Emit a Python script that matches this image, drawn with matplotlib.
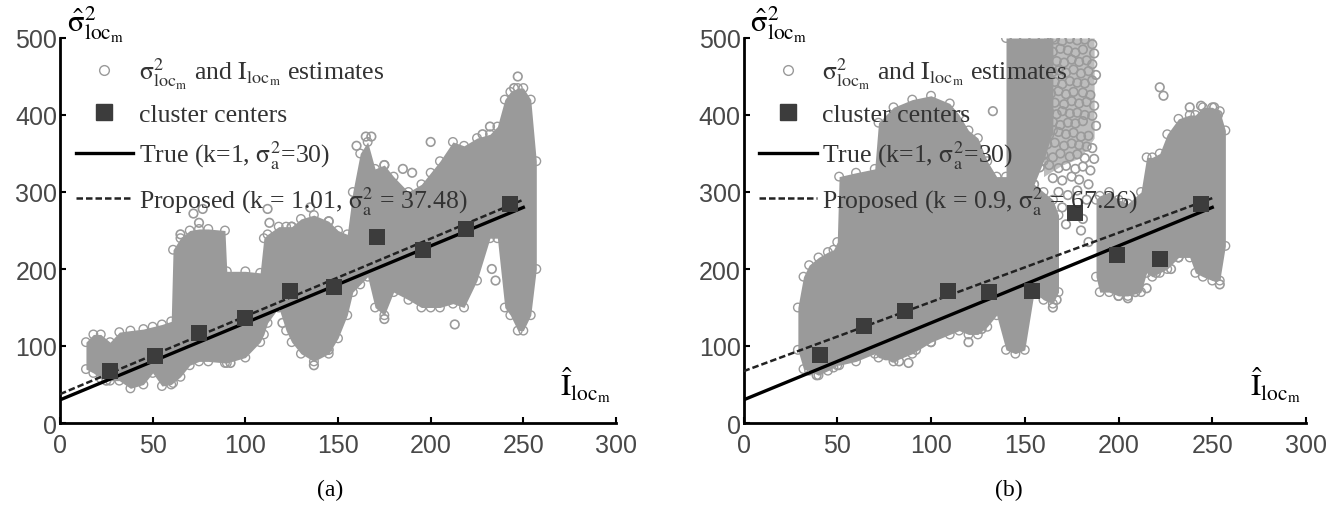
import matplotlib
matplotlib.use('Agg')
import matplotlib.pyplot as plt
from matplotlib.lines import Line2D

# --- 1. DATA ---
# panel (a): gray cloud outline
a_cloud_x = [14, 18, 22, 27, 32, 38, 45, 50, 55, 60, 61, 65, 70, 75, 80, 89, 90, 100, 108, 110, 112, 118, 122, 125, 130,
             137, 145, 150, 155, 158, 162, 166, 170, 175, 180, 188, 195, 200, 205, 212, 218, 225, 232, 236, 240, 243,
             247, 250, 254, 257]
a_cloud_lo = [70, 65, 58, 55, 55, 45, 50, 65, 48, 50, 52, 60, 75, 80, 80, 78, 78, 85, 105, 115, 130, 150, 120, 105, 90,
              80, 90, 110, 140, 170, 180, 190, 150, 140, 170, 160, 150, 150, 150, 155, 150, 185, 240, 240, 150, 140,
              120, 120, 140, 200]
a_cloud_hi = [105, 115, 115, 105, 118, 120, 122, 125, 128, 132, 225, 240, 250, 252, 252, 250, 197, 197, 195, 240, 245,
              255, 255, 255, 265, 270, 262, 250, 245, 300, 350, 365, 330, 335, 320, 300, 310, 325, 340, 365, 360, 370,
              375, 385, 420, 430, 435, 435, 420, 340]
a_stray_x = [247, 245, 200, 232, 228, 165, 168, 160, 77, 72, 75, 65, 112, 113, 135, 213, 175, 235, 233, 145, 137, 92,
             120, 25, 125, 145, 185, 190, 175]
a_stray_y = [450, 435, 365, 385, 375, 372, 372, 360, 278, 272, 260, 245, 278, 260, 280, 128, 135, 185, 200, 95, 75, 78,
             130, 55, 255, 262, 330, 325, 335]
a_center_x = [27, 51, 75, 100, 124, 148, 171, 196, 219, 243]
a_center_y = [68, 87, 117, 137, 172, 177, 241, 225, 252, 284]
a_true_y = [30, 280]
a_prop_y = [37.48, 290]
a_prop_label = r'Proposed (k = 1.01, $\mathrm{\sigma}^2_{\mathrm{a}}$ = 37.48)'

# panel (b): three gray blocks
b_main_x = [29, 32, 35, 40, 45, 48, 50, 51, 60, 70, 72, 80, 90, 100, 110, 115, 120, 125, 130, 135, 140, 145, 150, 155,
            160, 165, 168]
b_main_lo = [95, 70, 68, 62, 68, 72, 75, 75, 80, 90, 85, 80, 90, 105, 115, 120, 115, 115, 125, 140, 95, 90, 95, 170,
             160, 155, 170]
b_main_hi = [150, 190, 205, 215, 222, 225, 235, 320, 325, 330, 390, 410, 420, 425, 415, 400, 380, 370, 340, 320, 320,
             320, 320, 310, 300, 290, 270]
b_tall_x = [140, 145, 150, 155, 160, 165]
b_tall_lo = [300, 300, 300, 310, 340, 380]
b_tall_hi = [500, 500, 500, 500, 500, 500]
# speckled part right of the solid block
b_speck_x = [160, 170, 180, 187]
b_speck_lo = [320, 335, 345, 370]
b_speck_hi = [500, 500, 500, 500]
b_right_x = [188, 190, 195, 200, 205, 212, 215, 218, 222, 226, 232, 238, 241, 245, 250, 254, 257]
b_right_lo = [190, 170, 170, 165, 165, 170, 195, 190, 195, 200, 215, 215, 195, 190, 185, 185, 230]
b_right_hi = [290, 295, 300, 290, 285, 300, 345, 345, 350, 375, 395, 400, 400, 410, 410, 405, 380]
# loose circles of the tall block, row by row from the top
b_stray_x = [166, 170, 174, 178, 182, 186,
             165, 169, 173, 177, 181, 187,
             167, 171, 175, 179, 183, 186,
             165, 168, 172, 176, 180, 184, 188,
             166, 170, 174, 178, 182, 186,
             164, 168, 172, 176, 181, 185,
             166, 171, 175, 179, 183, 187,
             163, 167, 170, 174, 178, 182, 186,
             160, 165, 169, 173, 177, 181, 188,
             158, 163, 168, 172, 176, 180, 184,
             162, 166, 171, 175, 179, 183, 186,
             160, 165, 169, 174, 178, 182, 187,
             158, 163, 168, 172, 177, 181, 185,
             165, 170, 175, 179, 184,
             168, 173, 178, 183,
             170, 176, 181,
             172, 180, 184,
             222, 224, 238, 244, 251, 253, 133, 124, 127, 120, 80, 83, 88, 92, 76, 100, 39, 165, 167, 200,
             205, 209, 215, 220, 228, 232, 241, 252, 254]
b_stray_y = [498, 496, 499, 497, 498, 492,
             482, 486, 484, 481, 485, 480,
             470, 468, 472, 469, 471, 466,
             456, 458, 455, 459, 454, 457, 452,
             443, 440, 444, 442, 441, 445,
             428, 431, 427, 430, 429, 426,
             416, 414, 418, 415, 417, 412,
             404, 401, 405, 402, 403, 400, 399,
             388, 391, 387, 390, 389, 392, 386,
             376, 374, 378, 375, 377, 372, 373,
             362, 364, 360, 363, 361, 359, 357,
             348, 345, 350, 346, 349, 344, 343,
             332, 335, 331, 334, 330, 333, 328,
             318, 315, 320, 316, 310,
             300, 296, 302, 290,
             280, 275, 265,
             258, 250, 235,
             436, 425, 410, 412, 410, 400, 405, 125, 122, 105, 85, 80, 78, 95, 88, 105, 62, 150, 160,
             165, 162, 170, 175, 195, 200, 215, 225, 190, 180]
b_center_x = [41, 64, 86, 109, 131, 154, 177, 199, 222, 244]
b_center_y = [88, 126, 146, 172, 170, 172, 273, 218, 213, 285]
b_true_y = [30, 280]
b_prop_y = [67.26, 292]
b_prop_label = r'Proposed (k = 0.9, $\mathrm{\sigma}^2_{\mathrm{a}}$ = 67.26)'

line_x = [0, 250]
x_ticks = [0, 50, 100, 150, 200, 250, 300]
y_ticks = [0, 100, 200, 300, 400, 500]

# --- 2. STYLE ---
plt.rcParams['font.family'] = ['Liberation Sans', 'DejaVu Sans']
plt.rcParams['mathtext.fontset'] = 'stix'
GRAY = '#9a9a9a'
SPECK = '#bdbdbd'
DARK = '#3c3c3c'
TICK_GRAY = '#484848'
W, H = 1337, 506

fig = plt.figure(figsize=(W / 100, H / 100), dpi=100)
ax_a = fig.add_axes([60 / W, 1 - 424 / H, 556 / W, 385 / H])
ax_b = fig.add_axes([743.5 / W, 1 - 424 / H, 562.5 / W, 385 / H])


def draw_cloud(ax, x, lo, hi):
    ax.fill_between(x, lo, hi, color=GRAY, lw=0, zorder=1)
    ax.scatter(x, lo, s=38, facecolors='none', edgecolors=GRAY, linewidths=1, zorder=1)
    ax.scatter(x, hi, s=38, facecolors='none', edgecolors=GRAY, linewidths=1, zorder=1)


def finish_panel(ax, stray_x, stray_y, cx, cy, true_y, prop_y, prop_label):
    ax.scatter(stray_x, stray_y, s=38, facecolors='none', edgecolors=GRAY, linewidths=1.2, zorder=1)
    ax.plot(line_x, true_y, color='black', lw=2.4, zorder=3)
    ax.plot(line_x, prop_y, color='#222222', lw=1.8, ls=(0, (2.6, 1.2)), zorder=3)
    ax.scatter(cx, cy, marker='s', s=120, color=DARK, lw=0, zorder=4)

    ax.set_xlim(0, 300)
    ax.set_ylim(0, 500)
    ax.set_xticks(x_ticks)
    ax.set_yticks(y_ticks)
    ax.tick_params(direction='in', length=4, width=1.5, labelsize=18, labelcolor=TICK_GRAY)
    ax.tick_params(axis='x', pad=7)
    ax.tick_params(axis='y', pad=2)
    for name in ['top', 'right']:
        ax.spines[name].set_visible(False)
    for name in ['left', 'bottom']:
        ax.spines[name].set_linewidth(2)
    ax.patch.set_alpha(0)

    # legend sits on top of the cloud with no frame
    handles = [
        Line2D([], [], marker='o', ls='none', ms=7, mfc='none', mec=GRAY, mew=1),
        Line2D([], [], marker='s', ls='none', ms=11, color=DARK),
        Line2D([], [], color='black', lw=2.4),
        Line2D([], [], color='#222222', lw=1.8, ls=(0, (2.6, 1.2))),
    ]
    labels = [
        r'$\mathrm{\sigma}^2_{\mathrm{loc}_{\mathrm{m}}}$ and $\mathrm{I}_{\mathrm{loc}_{\mathrm{m}}}$ estimates',
        'cluster centers',
        r'True (k=1, $\mathrm{\sigma}^2_{\mathrm{a}}$=30)',
        prop_label,
    ]
    leg = ax.legend(handles, labels, loc='upper left', bbox_to_anchor=(0.028, 0.955), frameon=False, borderpad=0,
                    borderaxespad=0, handlelength=2.25, handletextpad=0.2, labelspacing=0.48,
                    prop={'family': 'Liberation Serif', 'size': 18.5})
    leg.set_zorder(5)
    for t in leg.get_texts():
        t.set_color('#333333')

    # axis names are placed by hand like in the paper
    ax.text(0.012, 0.985, r'$\hat{\mathrm{\sigma}}^2_{\mathrm{loc}_{\mathrm{m}}}$', transform=ax.transAxes, fontsize=22,
            color='black', va='bottom', ha='left')
    ax.text(0.90, 0.05, r'$\hat{\mathrm{I}}_{\mathrm{loc}_{\mathrm{m}}}$', transform=ax.transAxes, fontsize=22,
            color='black', va='bottom', ha='left')


# --- 3. PANELS ---
draw_cloud(ax_a, a_cloud_x, a_cloud_lo, a_cloud_hi)
finish_panel(ax_a, a_stray_x, a_stray_y, a_center_x, a_center_y, a_true_y, a_prop_y, a_prop_label)

ax_b.fill_between(b_speck_x, b_speck_lo, b_speck_hi, color=SPECK, lw=0, zorder=1)
draw_cloud(ax_b, b_main_x, b_main_lo, b_main_hi)
draw_cloud(ax_b, b_tall_x, b_tall_lo, b_tall_hi)
draw_cloud(ax_b, b_right_x, b_right_lo, b_right_hi)
finish_panel(ax_b, b_stray_x, b_stray_y, b_center_x, b_center_y, b_true_y, b_prop_y, b_prop_label)

fig.text(330 / W, 1 - 490 / H, '(a)', family='Liberation Serif', fontsize=17, ha='center', va='center')
fig.text(1009 / W, 1 - 490 / H, '(b)', family='Liberation Serif', fontsize=17, ha='center', va='center')

fig.savefig('out.png', dpi=100)
